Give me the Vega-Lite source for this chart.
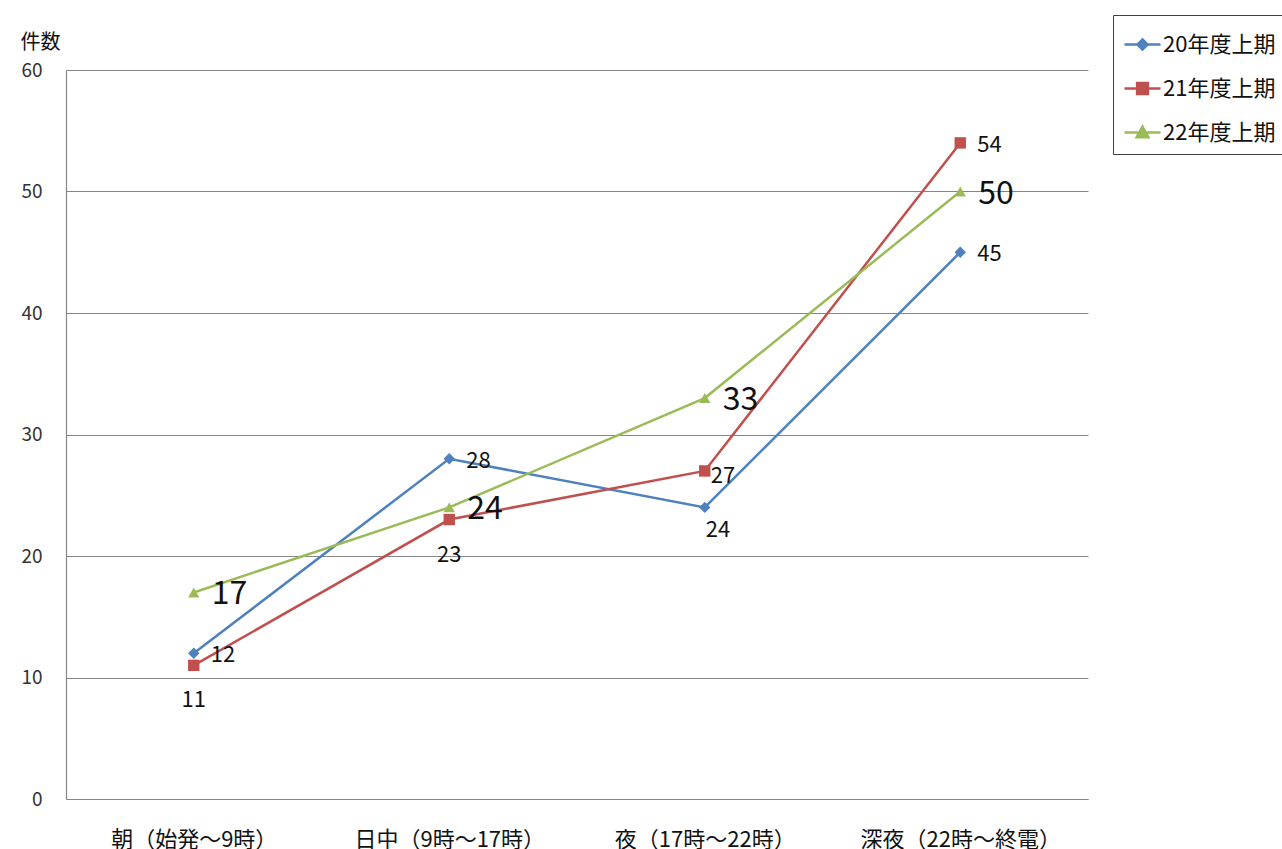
{
  "$schema": "https://vega.github.io/schema/vega-lite/v6.json",
  "autosize": "none",
  "width": 1022,
  "height": 729,
  "padding": {"left": 66, "top": 70, "right": 194, "bottom": 50},
  "background": "white",
  "config": {
    "font": "Noto Sans CJK JP",
    "view": {"stroke": null}
  },
  "data": {
    "values": [
      {"cat": "朝（始発～9時）", "series": "20年度上期", "value": 12},
      {"cat": "日中（9時～17時）", "series": "20年度上期", "value": 28},
      {"cat": "夜（17時～22時）", "series": "20年度上期", "value": 24},
      {"cat": "深夜（22時～終電）", "series": "20年度上期", "value": 45},
      {"cat": "朝（始発～9時）", "series": "21年度上期", "value": 11},
      {"cat": "日中（9時～17時）", "series": "21年度上期", "value": 23},
      {"cat": "夜（17時～22時）", "series": "21年度上期", "value": 27},
      {"cat": "深夜（22時～終電）", "series": "21年度上期", "value": 54},
      {"cat": "朝（始発～9時）", "series": "22年度上期", "value": 17},
      {"cat": "日中（9時～17時）", "series": "22年度上期", "value": 24},
      {"cat": "夜（17時～22時）", "series": "22年度上期", "value": 33},
      {"cat": "深夜（22時～終電）", "series": "22年度上期", "value": 50}
    ]
  },
  "encoding": {
    "x": {
      "field": "cat", "type": "nominal",
      "sort": ["朝（始発～9時）", "日中（9時～17時）", "夜（17時～22時）", "深夜（22時～終電）"],
      "scale": {"type": "point", "padding": 0.5},
      "axis": {
        "title": null, "labelAngle": 0, "labelFontSize": 22, "labelColor": "#111",
        "labelPadding": 30, "labelLimit": 400, "ticks": false, "domainColor": "#868686", "domainWidth": 1.2,
        "grid": false
      }
    },
    "y": {
      "field": "value", "type": "quantitative",
      "scale": {"domain": [0, 60], "nice": false},
      "axis": {
        "values": [0, 10, 20, 30, 40, 50, 60], "title": "件数", "titleAngle": 0,
        "titleX": -46, "titleY": -28, "titleAlign": "left", "titleBaseline": "middle",
        "titleFontSize": 20, "titleFontWeight": "normal", "titleColor": "#111",
        "labelFontSize": 19, "labelColor": "#333", "labelPadding": 24, "ticks": false,
        "domainColor": "#868686", "domainWidth": 1.2, "gridColor": "#868686", "gridWidth": 1
      }
    }
  },
  "layer": [
    {
      "mark": {"type": "line", "strokeWidth": 2.5},
      "encoding": {
        "color": {
          "field": "series", "type": "nominal",
          "scale": {"domain": ["20年度上期", "21年度上期", "22年度上期"], "range": ["#4F81BD", "#C0504D", "#9BBB59"]},
          "legend": null
        }
      }
    },
    {
      "mark": {"type": "point", "filled": true, "opacity": 1},
      "encoding": {
        "color": {"field": "series", "type": "nominal", "legend": null},
        "shape": {
          "field": "series", "type": "nominal",
          "scale": {"domain": ["20年度上期", "21年度上期", "22年度上期"], "range": ["diamond", "square", "triangle-up"]},
          "legend": null
        },
        "size": {"value": 130}
      }
    },
    {
      "mark": {"type": "point", "filled": false, "opacity": 0, "strokeWidth": 2.5},
      "encoding": {
        "color": {
          "field": "series", "type": "nominal",
          "legend": {
            "title": null, "orient": "none", "legendX": 1047, "legendY": -55,
            "labelFontSize": 22, "labelColor": "#111", "symbolSize": 1296,
            "symbolStrokeWidth": 2.5, "symbolOpacity": 1, "rowPadding": 13,
            "strokeColor": "#404040", "padding": 10, "labelOffset": 1
          }
        },
        "shape": {
          "field": "series", "type": "nominal",
          "scale": {"domain": ["20年度上期", "21年度上期", "22年度上期"], "range": [
            "M-1,0H1M0,-0.28L0.28,0L0,0.28L-0.28,0ZM0,-0.17L0.17,0L0,0.17L-0.17,0ZM0,-0.07L0.07,0L0,0.07L-0.07,0Z",
            "M-1,0H1M-0.3,-0.3H0.3V0.3H-0.3ZM-0.19,-0.19H0.19V0.19H-0.19ZM-0.08,-0.08H0.08V0.08H-0.08Z",
            "M-1,0H1M0,-0.33L0.33,0.27H-0.33ZM0,-0.17L0.2,0.19H-0.2ZM0,-0.03L0.08,0.12H-0.08Z"
          ]},
          "legend": {
            "title": null, "orient": "none", "legendX": 1047, "legendY": -55,
            "labelFontSize": 22, "labelColor": "#111", "symbolSize": 1296,
            "symbolStrokeWidth": 2.5, "symbolOpacity": 1, "rowPadding": 13,
            "strokeColor": "#404040", "padding": 10, "labelOffset": 1
          }
        }
      }
    },
    {
      "transform": [{"filter": "(datum.series=='20年度上期' && datum.cat!='夜（17時～22時）') || (datum.series=='21年度上期' && datum.cat=='深夜（22時～終電）')"}],
      "mark": {"type": "text", "align": "left", "baseline": "middle", "dx": 17, "dy": 2, "fontSize": 22, "color": "#111"},
      "encoding": {"text": {"field": "value", "type": "quantitative"}}
    },
    {
      "transform": [{"filter": "datum.series=='21年度上期' && datum.cat=='夜（17時～22時）'"}],
      "mark": {"type": "text", "align": "left", "baseline": "middle", "dx": 6, "dy": 5, "fontSize": 22, "color": "#111"},
      "encoding": {"text": {"field": "value", "type": "quantitative"}}
    },
    {
      "transform": [{"filter": "datum.series=='21年度上期' && datum.cat!='夜（17時～22時）' && datum.cat!='深夜（22時～終電）'"}],
      "mark": {"type": "text", "align": "center", "baseline": "middle", "dy": 35, "fontSize": 22, "color": "#111"},
      "encoding": {"text": {"field": "value", "type": "quantitative"}}
    },
    {
      "transform": [{"filter": "datum.series=='20年度上期' && datum.cat=='夜（17時～22時）'"}],
      "mark": {"type": "text", "align": "left", "baseline": "middle", "dx": 1, "dy": 23, "fontSize": 22, "color": "#111"},
      "encoding": {"text": {"field": "value", "type": "quantitative"}}
    },
    {
      "transform": [{"filter": "datum.series=='22年度上期'"}],
      "mark": {"type": "text", "align": "left", "baseline": "middle", "dx": 18, "dy": 2, "fontSize": 32, "color": "#111"},
      "encoding": {"text": {"field": "value", "type": "quantitative"}}
    }
  ],
  "resolve": {"scale": {"shape": "independent"}, "legend": {"shape": "independent", "color": "independent"}}
}
